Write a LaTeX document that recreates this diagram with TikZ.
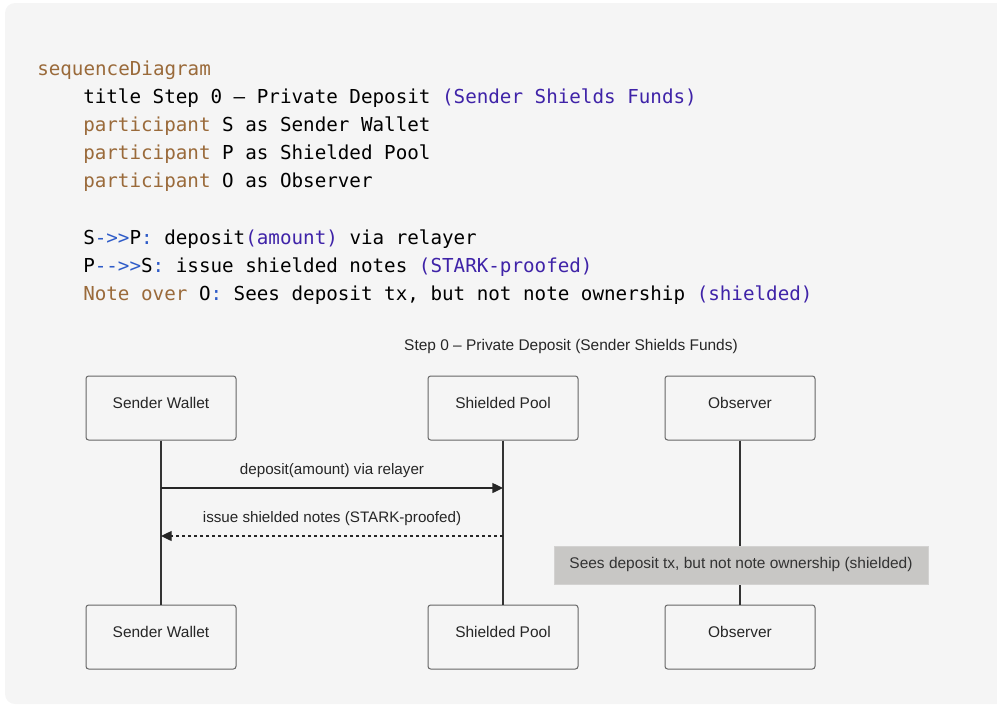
\documentclass[tikz,border=0pt]{standalone}
\usepackage{fontspec}
\setmainfont{Liberation Sans}
\setmonofont{DejaVu Sans Mono}
\usetikzlibrary{arrows.meta,positioning}
\definecolor{panelbg}{HTML}{F5F5F5}
\definecolor{kwbrown}{HTML}{9A6A3A}
\definecolor{opblue}{HTML}{2E5BC8}
\definecolor{strpurple}{HTML}{3F23A8}
\definecolor{boxline}{HTML}{666666}
\definecolor{notegray}{HTML}{C8C7C5}
\definecolor{notetext}{HTML}{333333}
\tikzset
{
    participant/.style = {rectangle, rounded corners=2pt, draw=boxline, line width=0.75pt, fill=panelbg, minimum width=112.5pt, minimum height=48pt, text height=8pt, text depth=8pt, inner sep=0pt, text=black!85, font=\fontsize{11.6}{13}\selectfont},
    lifeline/.style = {draw=black!80, line width=1.1pt},
    msg/.style = {draw=black!85, line width=1pt, -{Triangle[length=8pt,width=7.5pt]}},
    reply/.style = {msg, dash pattern=on 2.25pt off 2.25pt},
    msglabel/.style = {above=7.3pt, inner sep=0pt, text height=8pt, text depth=2.5pt, text=black!85, font=\fontsize{11.4}{13}\selectfont},
    note/.style = {rectangle, fill=notegray, draw=notegray!80!white, minimum width=280.5pt, minimum height=28.5pt, inner sep=0pt, text height=8pt, text depth=2.5pt, text=notetext, font=\fontsize{11.6}{13}\selectfont},
    codeline/.style = {anchor=base west, inner sep=0pt, font=\ttfamily\fontsize{14.42}{17}\selectfont}
}

\begin{document}
\begin{tikzpicture}[x=0.75pt, y=-0.75pt]
		\useasboundingbox (0,0) rectangle (997,708);
		\clip (0,0) rectangle (997,708);
		\fill[panelbg, rounded corners=7.5pt] (5,3) rectangle (1015,704);
		
		% source text
		\node (c1) [codeline] at (37,75) {\textcolor{kwbrown}{sequenceDiagram}};
		\node (c2) [codeline] at (83,103) {title Step 0 – Private Deposit \textcolor{strpurple}{(Sender Shields Funds)}};
		\node (c3) [codeline] at (83,131) {\textcolor{kwbrown}{participant} S as Sender Wallet};
		\node (c4) [codeline] at (83,159) {\textcolor{kwbrown}{participant} P as Shielded Pool};
		\node (c5) [codeline] at (83,187) {\textcolor{kwbrown}{participant} O as Observer};
		\node (c6) [codeline] at (83,244) {S\textcolor{opblue}{->>}P\textcolor{opblue}{:} deposit\textcolor{strpurple}{(amount)} via relayer};
		\node (c7) [codeline] at (83,272) {P\textcolor{opblue}{-{}->>}S\textcolor{opblue}{:} issue shielded notes \textcolor{strpurple}{(STARK-proofed)}};
		\node (c8) [codeline] at (83,300) {\textcolor{kwbrown}{Note over} O\textcolor{opblue}{:} Sees deposit tx, but not note ownership \textcolor{strpurple}{(shielded)}};
		
		% rendered diagram
		\node (title) [anchor=base, inner sep=0pt, text=black!85, font=\fontsize{11.6}{13}\selectfont] at (571,350) {Step 0 – Private Deposit (Sender Shields Funds)};
		
		\node (sw) [participant] at (161,408) {Sender Wallet};
		\node (sp) [participant] at (503,408) {Shielded Pool};
		\node (ob) [participant] at (740,408) {Observer};
		\node (swb) [participant] at (161,637) {Sender Wallet};
		\node (spb) [participant] at (503,637) {Shielded Pool};
		\node (obb) [participant] at (740,637) {Observer};
		
		\draw[lifeline] (sw) -- (swb);
		\draw[lifeline] (sp) -- (spb);
		\draw[lifeline] (ob) -- (obb);
		
		\coordinate (m1a) at (sw |- 0,488);
		\coordinate (m1b) at (sp |- 0,488);
		\coordinate (m2a) at (sp |- 0,536);
		\coordinate (m2b) at (sw |- 0,536);
		\draw[msg] (m1a) -- node[msglabel]{deposit(amount) via relayer} (m1b);
		\draw[reply] (m2a) -- node[msglabel]{issue shielded notes (STARK-proofed)} (m2b);
		
		\node (nt) [note] at (741,565) {Sees deposit tx, but not note ownership (shielded)};
		
\end{tikzpicture}
\end{document}
